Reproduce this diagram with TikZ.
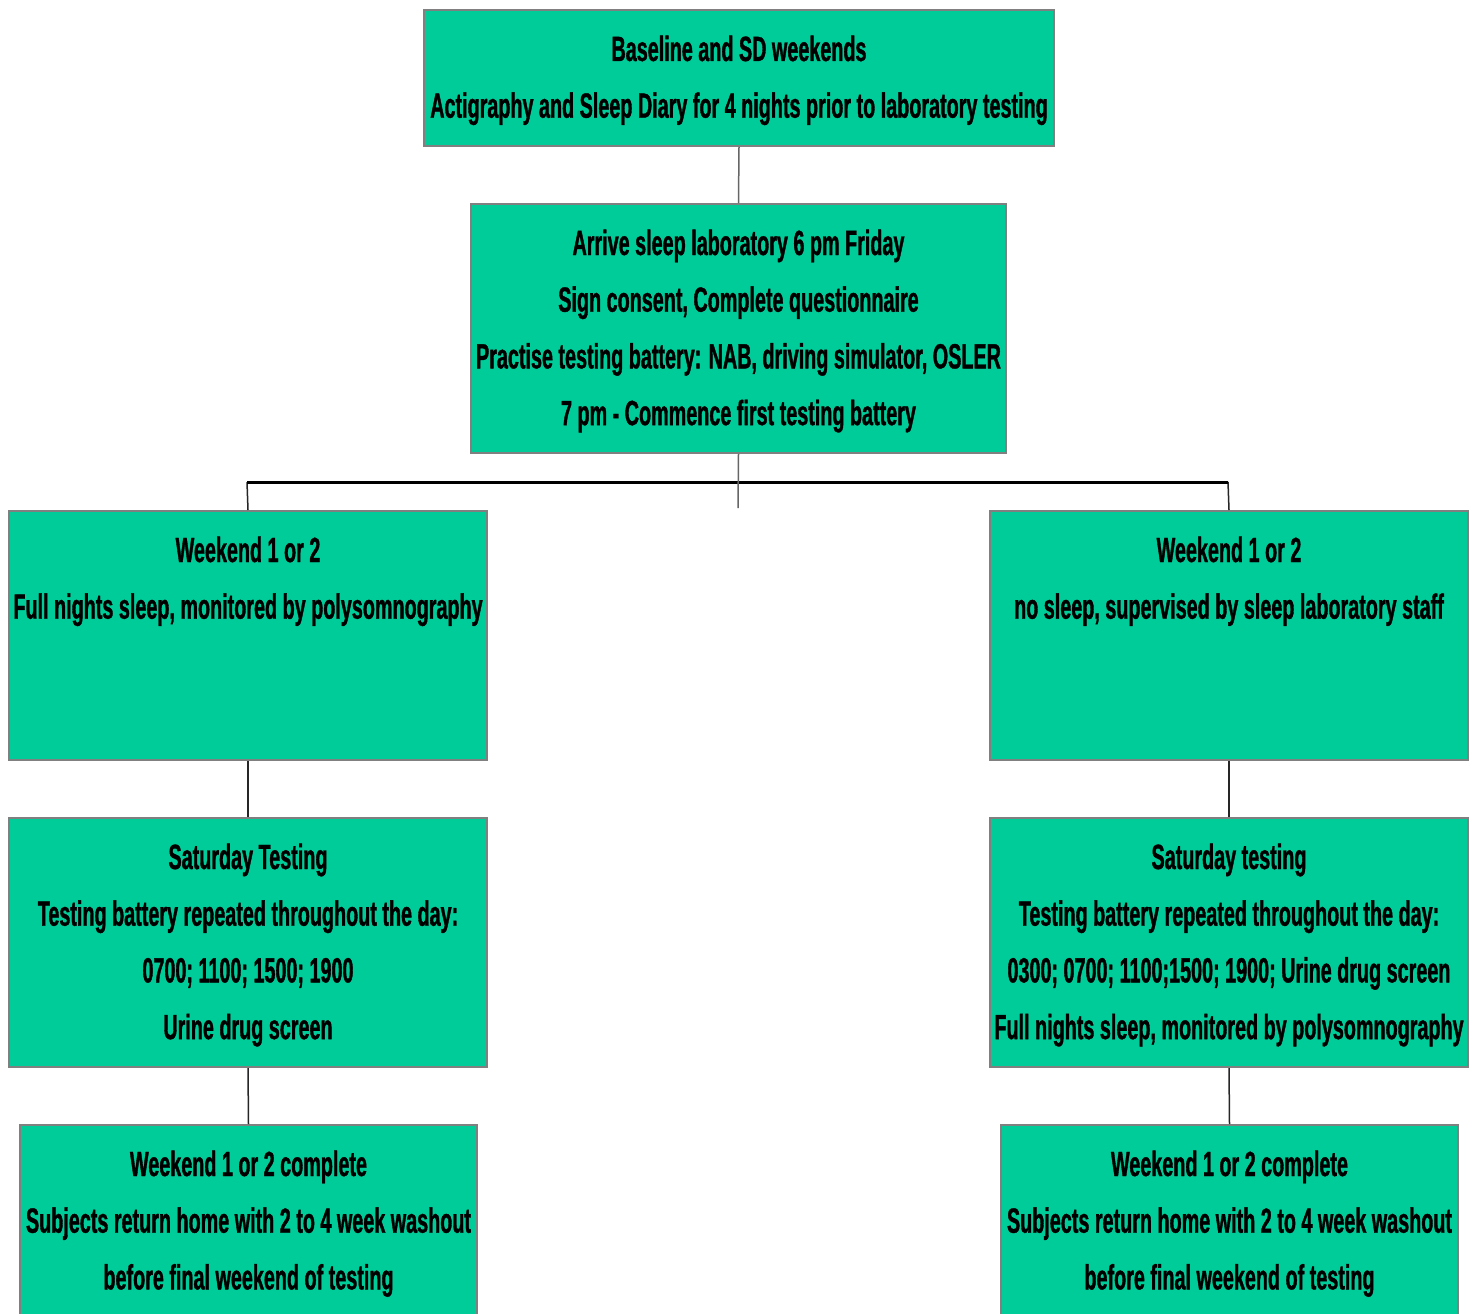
\documentclass[tikz,border=0pt]{standalone}
\usepackage{fontspec}
\setmainfont{Liberation Sans}[FakeStretch=0.565, BoldFeatures={FakeStretch=0.565, FakeBold=1.0}]
\definecolor{boxgreen}{HTML}{00CC99}
\definecolor{boxedge}{HTML}{808080}
\newcommand\bxt[3]{\parbox[c][#2][t]{#1}{\centering\fontsize{35}{56.7}\selectfont\bfseries\rule{0pt}{51pt}#3\par}}
\tikzset{
  flowbox/.style={draw=boxedge, line width=2pt, fill=boxgreen, inner sep=0pt, anchor=north west},
  link/.style={draw=black!85, line width=1.5pt},
  grey link/.style={draw=black!60, line width=1.5pt},
  bar/.style={draw=black, line width=3pt}
}
\begin{document}
\begin{tikzpicture}[x=1pt,y=-1pt]
\clip (0,0) rectangle (1478,1314);
\fill[white] (0,0) rectangle (1478,1314);
\node[flowbox] (b1) at (423,9) {\bxt{630pt}{136pt}{Baseline and SD weekends\\Actigraphy and Sleep Diary for 4 nights prior to laboratory testing}};
\node[flowbox] (b2) at (470,203) {\bxt{535pt}{249pt}{Arrive sleep laboratory 6 pm Friday\\Sign consent, Complete questionnaire\\Practise testing battery: NAB, driving simulator, OSLER\\7 pm - Commence first testing battery}};
\node[flowbox] (l3) at (8,510) {\bxt{478pt}{249pt}{Weekend 1 or 2\\Full nights sleep, monitored by polysomnography}};
\node[flowbox] (r3) at (989,510) {\bxt{478pt}{249pt}{Weekend 1 or 2\\no sleep, supervised by sleep laboratory staff}};
\node[flowbox] (l4) at (8,817) {\bxt{478pt}{249pt}{Saturday Testing\\Testing battery repeated throughout the day:\\0700; 1100; 1500; 1900\\Urine drug screen}};
\node[flowbox] (r4) at (989,817) {\bxt{478pt}{249pt}{Saturday testing\\Testing battery repeated throughout the day:\\0300; 0700; 1100;1500; 1900; Urine drug screen\\Full nights sleep, monitored by polysomnography}};
\node[flowbox] (l5) at (19,1124) {\bxt{457pt}{230pt}{Weekend 1 or 2 complete\\Subjects return home with 2 to 4 week washout\\before final weekend of testing}};
\node[flowbox] (r5) at (1000,1124) {\bxt{457pt}{230pt}{Weekend 1 or 2 complete\\Subjects return home with 2 to 4 week washout\\before final weekend of testing}};
\coordinate (jl) at (247,482);
\coordinate (jr) at (1228,482);
\coordinate (cend) at (738,508);
\draw[grey link] (b1.south) -- (b2.north);
\draw[link] (jl) -- (l3.north);
\draw[link] (jr) -- (r3.north);
\draw[bar] (jl) -- (jr);
\draw[grey link] (b2.south) -- (cend);
\draw[link] (l3.south) -- (l4.north);
\draw[link] (r3.south) -- (r4.north);
\draw[link] (l4.south) -- (l5.north);
\draw[link] (r4.south) -- (r5.north);
\end{tikzpicture}
\end{document}
